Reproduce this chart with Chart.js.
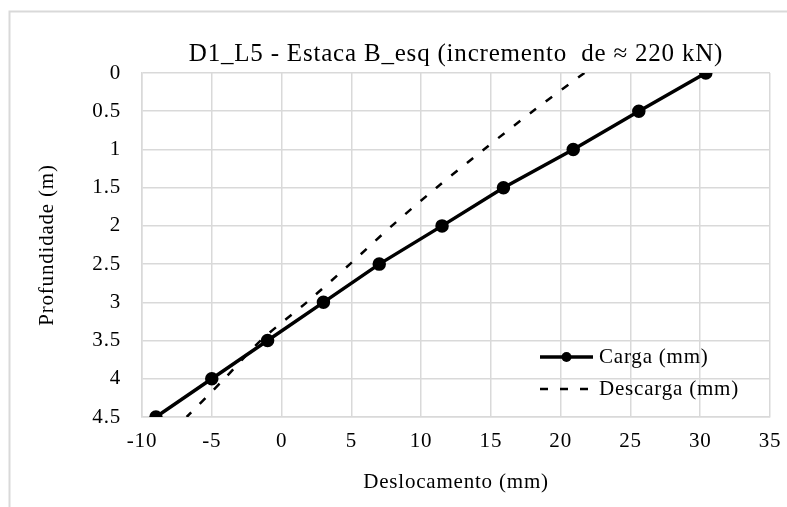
<!DOCTYPE html>
<html>
<head>
<meta charset="utf-8">
<script src="https://cdn.jsdelivr.net/npm/chart.js@4.4.1/dist/chart.umd.min.js"></script>
<style>
  html, body { margin: 0; padding: 0; background: #ffffff; }
  #wrap { width: 787px; height: 507px; position: relative; }
</style>
</head>
<body>
<div id="wrap"><canvas id="c" width="787" height="507"></canvas></div>
<script>
// Depth along the pile (m)
const profundidade = [0, 0.5, 1, 1.5, 2, 2.5, 3, 3.5, 4, 4.5];
// Horizontal displacement at each depth (mm)
const carga = [30.4, 25.6, 20.9, 15.9, 11.5, 7.0, 3.0, -1.0, -5.0, -9.0];
const descarga = [21.7, 18.0, 14.5, 11.1, 7.9, 4.9, 1.8, -1.5, -4.1, -6.8];

const seriesNames = ['Carga (mm)', 'Descarga (mm)'];
const chartTitle = 'D1_L5 - Estaca B_esq (incremento  de ≈ 220 kN)';
const xAxisTitle = 'Deslocamento (mm)';
const yAxisTitle = 'Profundidade (m)';

const xTicks = [-10, -5, 0, 5, 10, 15, 20, 25, 30, 35];
const yTicks = [0, 0.5, 1, 1.5, 2, 2.5, 3, 3.5, 4, 4.5];

const SERIF = '"Liberation Serif", "Times New Roman", serif';
const GRID = '#d9d9d9';

const toPoints = (xs) => xs.map((x, i) => ({ x: x, y: profundidade[i] }));

// Light tracking for all canvas text (re-applied because a canvas
// resize resets the context state)
const TRACKING = '0.8px';
const applyTracking = (chart) => {
  if ('letterSpacing' in chart.ctx) chart.ctx.letterSpacing = TRACKING;
};
const textSpacing = {
  id: 'textSpacing',
  beforeUpdate: applyTracking,
  beforeLayout: applyTracking,
  beforeDraw: applyTracking
};

// Outer frame of the chart object
const framePlugin = {
  id: 'frame',
  beforeDraw(chart) {
    const ctx = chart.ctx;
    ctx.save();
    ctx.strokeStyle = GRID;
    ctx.lineWidth = 2;
    ctx.beginPath();
    ctx.moveTo(9.5, chart.height + 5);
    ctx.lineTo(9.5, 11.5);
    ctx.lineTo(chart.width + 5, 11.5);
    ctx.stroke();
    ctx.restore();
  }
};

// Legend drawn inside the plot, lower right
const innerLegend = {
  id: 'innerLegend',
  afterDatasetsDraw(chart) {
    const ctx = chart.ctx;
    const area = chart.chartArea;
    const x0 = area.right - 230;
    const x1 = x0 + 53;
    const rows = [area.bottom - 60, area.bottom - 28];
    ctx.save();
    chart.data.datasets.forEach((ds, i) => {
      const y = rows[i];
      ctx.strokeStyle = ds.borderColor;
      ctx.lineWidth = ds.borderWidth;
      ctx.setLineDash(ds.borderDash || []);
      ctx.lineCap = 'butt';
      ctx.beginPath();
      ctx.moveTo(x0, y);
      ctx.lineTo(x1, y);
      ctx.stroke();
      ctx.setLineDash([]);
      if (ds.pointRadius > 0) {
        ctx.fillStyle = ds.pointBackgroundColor;
        ctx.beginPath();
        ctx.arc((x0 + x1) / 2, y, ds.pointRadius, 0, Math.PI * 2);
        ctx.fill();
      }
      ctx.fillStyle = '#000000';
      ctx.font = '21px ' + SERIF;
      ctx.textAlign = 'left';
      ctx.textBaseline = 'middle';
      ctx.fillText(ds.label, x1 + 6, y);
    });
    ctx.restore();
  }
};

new Chart(document.getElementById('c'), {
  type: 'scatter',
  data: {
    datasets: [
      {
        label: seriesNames[0],
        data: toPoints(carga),
        showLine: true,
        borderColor: '#000000',
        backgroundColor: '#000000',
        pointBackgroundColor: '#000000',
        pointBorderColor: '#000000',
        borderWidth: 3.5,
        pointRadius: 5,
        pointHoverRadius: 5,
        tension: 0,
        order: 1
      },
      {
        label: seriesNames[1],
        data: toPoints(descarga),
        showLine: true,
        borderColor: '#000000',
        backgroundColor: '#000000',
        borderWidth: 2.5,
        borderDash: [8, 12],
        pointRadius: 0,
        pointHoverRadius: 0,
        tension: 0.3,
        order: 2
      }
    ]
  },
  options: {
    responsive: false,
    animation: false,
    devicePixelRatio: 1,
    layout: { padding: { left: 0, right: 17, top: 0, bottom: 0 } },
    plugins: {
      legend: { display: false },
      tooltip: { enabled: false },
      title: {
        display: true,
        text: chartTitle,
        fullSize: false,
        color: '#000000',
        font: { family: SERIF, size: 25, weight: 'normal' },
        padding: { top: 39, bottom: 4 }
      }
    },
    scales: {
      x: {
        type: 'linear',
        min: -10,
        max: 35,
        afterBuildTicks(scale) { scale.ticks = xTicks.map(v => ({ value: v })); },
        afterFit(scale) {
          scale.height = 90;
          scale.paddingLeft = 0;
          scale.paddingRight = 0;
        },
        grid: { color: GRID, lineWidth: 1.5, drawTicks: false },
        border: { color: GRID, width: 1.5 },
        ticks: {
          color: '#000000',
          padding: 12,
          font: { family: SERIF, size: 21 },
          callback: (v) => String(v)
        },
        title: {
          display: true,
          text: xAxisTitle,
          color: '#000000',
          font: { family: SERIF, size: 21 },
          padding: { top: 0, bottom: 12 }
        }
      },
      y: {
        type: 'linear',
        reverse: true,
        min: 0,
        max: 4.5,
        afterBuildTicks(scale) { scale.ticks = yTicks.map(v => ({ value: v })); },
        afterFit(scale) {
          scale.width = 142;
          scale.paddingTop = 0;
          scale.paddingBottom = 0;
        },
        grid: { color: GRID, lineWidth: 1.5, drawTicks: false },
        border: { color: GRID, width: 1.5 },
        ticks: {
          color: '#000000',
          padding: 21,
          font: { family: SERIF, size: 21 },
          callback: (v) => String(v)
        },
        title: {
          display: true,
          text: yAxisTitle,
          color: '#000000',
          font: { family: SERIF, size: 21 },
          padding: { top: 35, bottom: 0 }
        }
      }
    }
  },
  plugins: [textSpacing, framePlugin, innerLegend]
});
</script>
</body>
</html>
